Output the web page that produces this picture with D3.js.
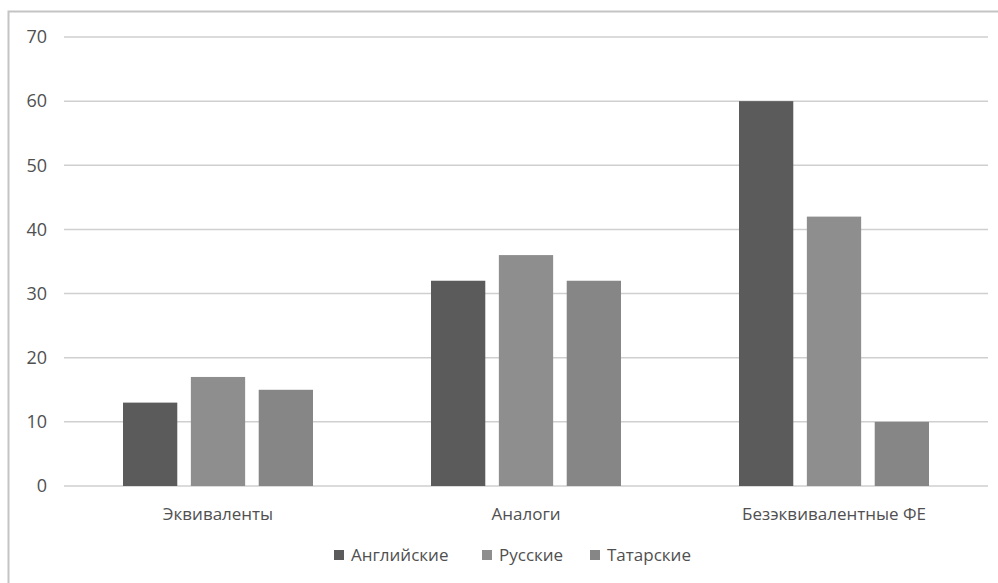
<!DOCTYPE html>
<html>
<head>
<meta charset="utf-8">
<script src="https://cdn.jsdelivr.net/npm/d3@7"></script>
<style>
  body { margin: 0; background: #fff; }
  text { font-family: "Open Sans", "Noto Sans", sans-serif; fill: #505050; }
</style>
</head>
<body>
<svg id="chart" width="998" height="583"></svg>
<script>
// Data
const categories = ['Эквиваленты', 'Аналоги', 'Безэквивалентные ФЕ'];
const seriesNames = ['Английские', 'Русские', 'Татарские'];
const english = [13, 32, 60];
const russian = [17, 36, 42];
const tatar = [15, 32, 10];
const yTicks = [0, 10, 20, 30, 40, 50, 60, 70];

const colors = ['#5b5b5b', '#8e8e8e', '#868686'];
const seriesValues = [english, russian, tatar];

const svg = d3.select('#chart');

// outer frame (only top and left edges fall inside the picture)
svg.append('rect')
  .attr('x', 8.5).attr('y', 11.5)
  .attr('width', 1100).attr('height', 700)
  .attr('fill', 'none')
  .attr('stroke', '#c4c4c4')
  .attr('stroke-width', 2);

const margin = { left: 64, top: 37 };
const plotRight = 988;
const plotBottom = 486;

const x0 = d3.scaleBand()
  .domain(categories)
  .range([margin.left, plotRight])
  .paddingInner(0)
  .paddingOuter(0);

const x1 = d3.scaleBand()
  .domain(seriesNames)
  .range([59, x0.bandwidth() - 59])
  .paddingInner(0.2)
  .paddingOuter(0);

const y = d3.scaleLinear()
  .domain([0, 70])
  .range([plotBottom, margin.top]);

// gridlines
svg.append('g')
  .selectAll('line')
  .data(yTicks)
  .join('line')
    .attr('x1', margin.left)
    .attr('x2', plotRight)
    .attr('y1', d => y(d))
    .attr('y2', d => y(d))
    .attr('stroke', '#cfcfcf')
    .attr('stroke-width', 1.5);

// y labels
svg.append('g')
  .selectAll('text')
  .data(yTicks)
  .join('text')
    .attr('x', 47)
    .attr('y', d => y(d))
    .attr('dy', '0.35em')
    .attr('text-anchor', 'end')
    .attr('font-size', '18px')
    .text(d => d);

// bars
const groups = svg.append('g')
  .selectAll('g')
  .data(categories)
  .join('g')
    .attr('transform', d => `translate(${x0(d)},0)`);

groups.selectAll('rect')
  .data((d, i) => seriesNames.map((s, j) => ({ s, v: seriesValues[j][i], j })))
  .join('rect')
    .attr('x', d => x1(d.s))
    .attr('y', d => y(d.v))
    .attr('width', x1.bandwidth())
    .attr('height', d => plotBottom - y(d.v))
    .attr('fill', d => colors[d.j]);

// category labels
svg.append('g')
  .selectAll('text')
  .data(categories)
  .join('text')
    .attr('x', d => x0(d) + x0.bandwidth() / 2)
    .attr('y', 520)
    .attr('text-anchor', 'middle')
    .attr('font-size', '17px')
    .text(d => d);

// legend
const legendX = [334, 482, 590];
const legend = svg.append('g')
  .selectAll('g')
  .data(seriesNames)
  .join('g')
    .attr('transform', (d, i) => `translate(${legendX[i]},550)`);

legend.append('rect')
  .attr('width', 10).attr('height', 10)
  .attr('fill', (d, i) => colors[i]);

legend.append('text')
  .attr('x', 17)
  .attr('y', 5)
  .attr('dy', '0.35em')
  .attr('font-size', '17px')
  .text(d => d);
</script>
</body>
</html>
